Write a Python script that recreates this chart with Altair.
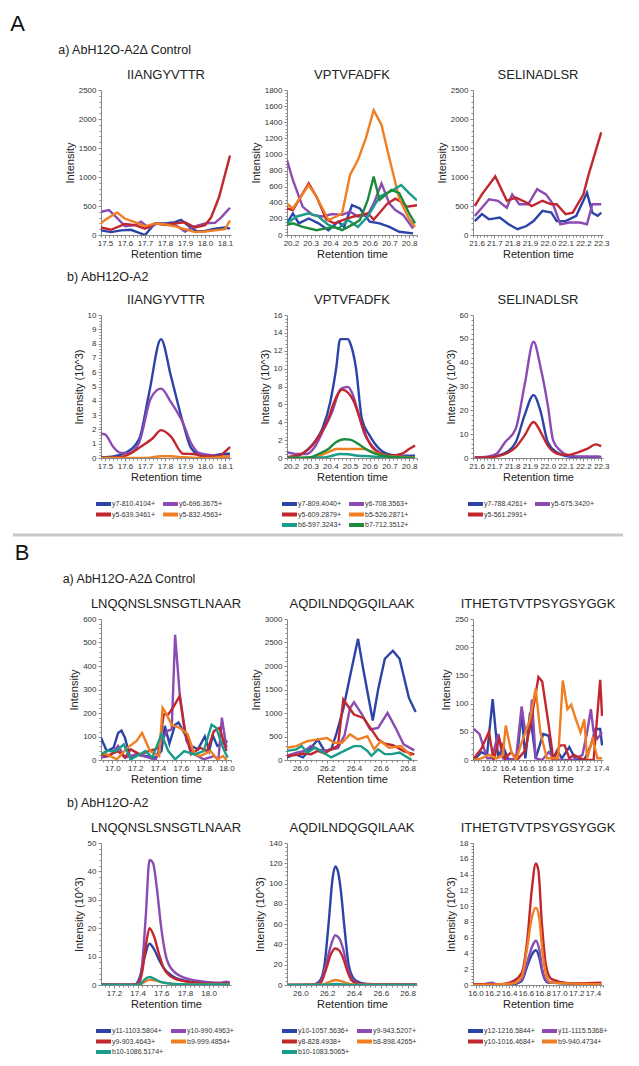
import altair as alt
import pandas as pd

BLUE = "#2b44a6"
PURPLE = "#8c4bb3"
RED = "#c1272d"
ORANGE = "#ef7f22"
TEAL = "#1a9c8b"
GREEN = "#1d8a3c"

# ---------------- Panel A : peptide names and transitions ----------------
A_PEPTIDES = ["IIANGYVTTR", "VPTVFADFK", "SELINADLSR"]
A1_IONS = ["y7-810.4104+", "y6-696.3675+", "y5-639.3461+", "y5-832.4563+"]
A1_COLORS = [BLUE, PURPLE, RED, ORANGE]
A2_IONS = ["y7-809.4040+", "y6-708.3563+", "y5-609.2879+", "b5-526.2871+", "b6-597.3243+", "b7-712.3512+"]
A2_COLORS = [BLUE, PURPLE, RED, ORANGE, TEAL, GREEN]
A3_IONS = ["y7-788.4261+", "y5-675.3420+", "y5-561.2991+"]
A3_COLORS = [BLUE, PURPLE, RED]

# A a) control, IIANGYVTTR (intensity)
a1_blue = [(17.48, 80), (17.53, 50), (17.58, 80), (17.63, 90), (17.7, 0), (17.75, 200), (17.8, 200), (17.85, 220), (17.88, 260), (17.92, 150), (17.96, 60), (18.0, 70), (18.05, 110), (18.1, 130), (18.125, 110)]
a1_purple = [(17.48, 400), (17.52, 430), (17.57, 260), (17.6, 150), (17.65, 170), (17.68, 230), (17.72, 120), (17.76, 200), (17.8, 190), (17.85, 180), (17.9, 60), (17.95, 150), (18.0, 200), (18.05, 210), (18.08, 300), (18.125, 470)]
a1_red = [(17.48, 130), (17.53, 90), (17.6, 190), (17.65, 170), (17.7, 110), (17.75, 200), (17.8, 170), (17.85, 200), (17.9, 220), (17.95, 130), (18.0, 170), (18.03, 300), (18.07, 650), (18.125, 1370)]
a1_orange = [(17.48, 200), (17.5, 260), (17.56, 390), (17.6, 280), (17.65, 220), (17.7, 150), (17.75, 200), (17.8, 180), (17.85, 150), (17.9, 100), (17.95, 50), (18.0, 60), (18.05, 80), (18.1, 100), (18.125, 250)]

# A a) control, VPTVFADFK
a2_blue = [(20.18, 145), (20.21, 270), (20.24, 145), (20.29, 205), (20.34, 145), (20.39, 60), (20.44, 165), (20.47, 100), (20.51, 370), (20.55, 330), (20.6, 165), (20.65, 145), (20.7, 100), (20.75, 40), (20.82, 20)]
a2_purple = [(20.18, 930), (20.21, 680), (20.26, 350), (20.31, 250), (20.36, 230), (20.41, 260), (20.46, 250), (20.5, 290), (20.54, 230), (20.59, 250), (20.62, 390), (20.66, 640), (20.7, 390), (20.73, 310), (20.77, 250), (20.82, 80)]
a2_red = [(20.18, 330), (20.21, 310), (20.29, 640), (20.33, 475), (20.38, 190), (20.42, 145), (20.47, 190), (20.52, 230), (20.59, 270), (20.62, 190), (20.69, 390), (20.73, 450), (20.76, 410), (20.79, 350), (20.84, 370)]
a2_orange = [(20.18, 390), (20.21, 330), (20.29, 620), (20.33, 475), (20.39, 186), (20.43, 230), (20.46, 270), (20.5, 745), (20.54, 930), (20.58, 1200), (20.62, 1550), (20.66, 1365), (20.69, 1050), (20.72, 750), (20.75, 450), (20.8, 200), (20.83, 100)]
a2_teal = [(20.18, 145), (20.23, 230), (20.29, 270), (20.34, 230), (20.39, 125), (20.44, 80), (20.49, 185), (20.54, 100), (20.59, 230), (20.65, 475), (20.72, 560), (20.76, 620), (20.8, 520), (20.84, 430)]
a2_green = [(20.18, 125), (20.21, 145), (20.26, 100), (20.33, 60), (20.37, 80), (20.42, 100), (20.46, 60), (20.51, 125), (20.55, 185), (20.59, 435), (20.62, 725), (20.65, 435), (20.71, 560), (20.75, 520), (20.8, 270), (20.83, 145)]

# A a) control, SELINADLSR
a3_blue = [(21.59, 240), (21.63, 360), (21.67, 270), (21.73, 300), (21.78, 185), (21.83, 100), (21.88, 155), (21.92, 240), (21.97, 415), (22.02, 385), (22.05, 240), (22.1, 240), (22.16, 330), (22.22, 730), (22.25, 385), (22.28, 330), (22.3, 385)]
a3_purple = [(21.59, 330), (21.63, 470), (21.67, 615), (21.72, 590), (21.77, 470), (21.8, 700), (21.84, 530), (21.89, 530), (21.94, 790), (21.99, 700), (22.03, 530), (22.07, 185), (22.12, 215), (22.18, 215), (22.22, 185), (22.25, 530), (22.3, 530)]
a3_red = [(21.59, 500), (21.63, 700), (21.705, 1010), (21.77, 590), (21.82, 645), (21.88, 560), (21.91, 500), (21.97, 590), (22.02, 530), (22.05, 530), (22.1, 360), (22.14, 385), (22.2, 700), (22.23, 1050), (22.3, 1770)]

# A b) AbH12O-A2, IIANGYVTTR (10^3)
b1_blue = [(17.48, 0.05), (17.5, 0.05), (17.57, 0.2), (17.6, 0.35), (17.67, 1.3), (17.72, 4.5), (17.78, 8.3), (17.83, 5.7), (17.89, 2.45), (17.93, 0.7), (17.97, 0.25), (18.03, 0.15), (18.1, 0.3), (18.125, 0.3)]
b1_purple = [(17.48, 1.7), (17.5, 1.65), (17.54, 0.8), (17.58, 0.35), (17.62, 0.35), (17.67, 1.05), (17.73, 4.2), (17.78, 4.85), (17.83, 3.9), (17.89, 2.45), (17.93, 1.05), (17.97, 0.35), (18.03, 0.2), (18.1, 0.1), (18.125, 0.1)]
b1_red = [(17.48, 0.0), (17.57, 0.05), (17.61, 0.2), (17.68, 0.8), (17.74, 1.4), (17.78, 1.95), (17.83, 1.5), (17.89, 0.3), (17.94, 0.28), (18.0, 0.1), (18.07, 0.1), (18.1, 0.45), (18.125, 0.77)]
b1_orange = [(17.48, 0.0), (17.6, 0.0), (17.7, 0.0), (17.78, 0.12), (17.83, 0.12), (17.89, 0.05), (17.97, 0.0), (18.03, 0.0), (18.1, 0.1), (18.125, 0.12)]

# A b) VPTVFADFK
b2_blue = [(20.18, 0.08), (20.23, 0.2), (20.28, 0.85), (20.32, 1.8), (20.36, 3.3), (20.4, 6.3), (20.43, 10.1), (20.45, 13.3), (20.49, 13.3), (20.5, 12.9), (20.53, 10.1), (20.56, 4.4), (20.6, 2.5), (20.65, 1.0), (20.69, 0.45), (20.74, 0.25), (20.83, 0.25)]
b2_purple = [(20.18, 0.65), (20.23, 0.45), (20.28, 0.45), (20.32, 1.2), (20.36, 2.9), (20.41, 5.2), (20.45, 7.65), (20.47, 7.9), (20.49, 7.95), (20.51, 7.3), (20.54, 5.2), (20.57, 2.9), (20.61, 1.4), (20.66, 0.45), (20.7, 0.2), (20.83, 0.08)]
b2_red = [(20.18, 0.08), (20.23, 0.25), (20.29, 1.0), (20.34, 2.35), (20.39, 4.4), (20.42, 6.3), (20.46, 7.65), (20.49, 7.3), (20.52, 6.3), (20.55, 4.4), (20.58, 2.55), (20.62, 1.0), (20.67, 0.4), (20.71, 0.25), (20.76, 0.45), (20.8, 1.0), (20.83, 1.4)]
b2_orange = [(20.18, 0.0), (20.28, 0.0), (20.34, 0.25), (20.39, 0.65), (20.43, 1.0), (20.48, 1.0), (20.52, 1.0), (20.57, 1.0), (20.61, 0.7), (20.66, 0.35), (20.7, 0.2), (20.83, 0.05)]
b2_teal = [(20.18, 0.0), (20.36, 0.05), (20.4, 0.2), (20.45, 0.45), (20.49, 0.42), (20.54, 0.25), (20.6, 0.2), (20.66, 0.08), (20.83, 0.0)]
b2_green = [(20.18, 0.0), (20.25, 0.0), (20.3, 0.08), (20.34, 0.45), (20.39, 1.0), (20.43, 1.8), (20.47, 2.1), (20.5, 2.05), (20.54, 1.6), (20.58, 1.0), (20.62, 0.55), (20.67, 0.25), (20.73, 0.08), (20.83, 0.0)]

# A b) SELINADLSR
b3_blue = [(21.59, 0.1), (21.67, 0.3), (21.75, 1.7), (21.82, 6.6), (21.87, 18.0), (21.92, 26.4), (21.96, 19.4), (22.0, 6.6), (22.05, 2.4), (22.12, 0.6), (22.21, 0.3), (22.3, 0.4)]
b3_purple = [(21.59, 0.3), (21.66, 0.6), (21.71, 1.7), (21.76, 6.6), (21.82, 12.3), (21.87, 30.7), (21.92, 48.8), (21.96, 37.8), (22.0, 22.2), (22.03, 7.4), (22.07, 3.1), (22.12, 1.0), (22.19, 0.6), (22.24, 0.7), (22.28, 0.6), (22.3, 0.3)]
b3_red = [(21.59, 0.1), (21.67, 0.3), (21.75, 1.4), (21.82, 4.5), (21.87, 9.5), (21.92, 15.1), (21.96, 10.9), (22.0, 5.2), (22.06, 1.7), (22.12, 1.3), (22.17, 2.4), (22.22, 3.8), (22.27, 5.7), (22.3, 5.0)]

# ---------------- Panel B ----------------
B_PEPTIDES = ["LNQQNSLSNSGTLNAAR", "AQDILNDQGQILAAK", "ITHETGTVTPSYGSYGGK"]
B1_IONS = ["y11-1103.5804+", "y10-990.4963+", "y9-903.4643+", "b9-999.4854+", "b10-1086.5174+"]
B1_COLORS = [BLUE, PURPLE, RED, ORANGE, TEAL]
B2_IONS = ["y10-1057.5636+", "y9-943.5207+", "y8-828.4938+", "b8-898.4265+", "b10-1083.5065+"]
B2_COLORS = [BLUE, PURPLE, RED, ORANGE, TEAL]
B3_IONS = ["y12-1216.5844+", "y11-1115.5368+", "y10-1016.4684+", "b9-940.4734+"]
B3_COLORS = [BLUE, PURPLE, RED, ORANGE]

# B a) control, LNQQNSLSNSGTLNAAR
c1_blue = [(16.9, 95), (16.95, 38), (17.01, 52), (17.05, 115), (17.08, 125), (17.11, 95), (17.16, 3), (17.21, 24), (17.29, 17), (17.38, 10), (17.43, 38), (17.46, 145), (17.5, 70), (17.55, 150), (17.58, 160), (17.63, 115), (17.69, 60), (17.75, 45), (17.81, 100), (17.85, 40), (17.88, 105), (17.92, 60), (17.97, 73), (18.01, 80)]
c1_purple = [(16.9, 10), (16.98, 17), (17.05, 60), (17.11, 10), (17.21, 24), (17.32, 10), (17.38, 0), (17.43, 80), (17.48, 123), (17.52, 130), (17.55, 533), (17.59, 280), (17.65, 80), (17.72, 24), (17.8, 3), (17.89, 17), (17.93, 3), (17.96, 180), (18.0, 52)]
c1_red = [(16.9, 24), (16.95, 17), (17.05, 38), (17.11, 10), (17.16, 45), (17.24, 24), (17.32, 38), (17.41, 52), (17.45, 194), (17.49, 194), (17.53, 222), (17.59, 272), (17.63, 137), (17.69, 24), (17.77, 52), (17.83, 38), (17.89, 123), (17.94, 137), (18.0, 38)]
c1_orange = [(16.9, 31), (16.95, 24), (17.04, 3), (17.13, 52), (17.21, 80), (17.26, 115), (17.33, 38), (17.41, 17), (17.44, 222), (17.46, 208), (17.52, 150), (17.59, 137), (17.66, 110), (17.72, 24), (17.77, 17), (17.86, 38), (17.92, 3), (17.97, 17), (18.0, 0)]
c1_teal = [(16.9, 24), (16.95, 38), (17.03, 38), (17.1, 66), (17.16, 3), (17.24, 24), (17.29, 38), (17.35, 10), (17.43, 110), (17.49, 38), (17.55, 3), (17.63, 38), (17.72, 24), (17.8, 38), (17.87, 150), (17.91, 137), (17.97, 52), (18.01, 10)]

# B a) control, AQDILNDQGQILAAK
c2_blue = [(25.9, 55), (25.96, 124), (26.02, 55), (26.07, 227), (26.13, 434), (26.18, 193), (26.23, 227), (26.27, 571), (26.32, 1087), (26.37, 1776), (26.43, 2578), (26.47, 1914), (26.54, 840), (26.58, 1500), (26.63, 2154), (26.69, 2324), (26.74, 2154), (26.81, 1320), (26.86, 1023)]
c2_purple = [(25.9, 90), (25.97, 158), (26.03, 193), (26.08, 300), (26.13, 227), (26.18, 193), (26.23, 227), (26.28, 250), (26.33, 530), (26.37, 1100), (26.4, 1230), (26.46, 968), (26.52, 650), (26.58, 685), (26.65, 1002), (26.71, 685), (26.77, 332), (26.85, 205)]
c2_red = [(25.9, 90), (25.96, 103), (26.02, 138), (26.08, 124), (26.13, 193), (26.18, 138), (26.23, 227), (26.28, 300), (26.32, 1285), (26.35, 1165), (26.4, 968), (26.47, 896), (26.53, 650), (26.58, 438), (26.63, 345), (26.69, 318), (26.77, 190), (26.85, 120)]
c2_orange = [(25.9, 261), (25.97, 296), (26.05, 400), (26.12, 434), (26.2, 468), (26.25, 365), (26.31, 367), (26.37, 545), (26.43, 438), (26.5, 508), (26.55, 227), (26.6, 402), (26.66, 260), (26.75, 297), (26.83, 85)]
c2_teal = [(25.9, 193), (25.97, 227), (26.01, 296), (26.05, 158), (26.11, 261), (26.17, 158), (26.23, 55), (26.3, 158), (26.35, 227), (26.4, 296), (26.45, 296), (26.5, 193), (26.53, 90), (26.58, 227), (26.63, 124), (26.68, 124), (26.74, 158), (26.83, 0)]

# B a) control, ITHETGTVTPSYGSYGGK
c3_blue = [(16.04, 0), (16.12, 14), (16.18, 9), (16.24, 108), (16.3, 3), (16.35, 26), (16.4, 3), (16.45, 0), (16.5, 3), (16.55, 84), (16.59, 3), (16.64, 84), (16.7, 3), (16.78, 46), (16.84, 43), (16.88, 0), (16.93, 17), (16.98, 3), (17.06, 23), (17.13, 0), (17.22, 0), (17.29, 26), (17.34, 55), (17.39, 55), (17.41, 26)]
c3_purple = [(16.04, 55), (16.1, 46), (16.18, 3), (16.23, 3), (16.3, 46), (16.35, 3), (16.4, 0), (16.49, 3), (16.55, 95), (16.59, 49), (16.63, 49), (16.66, 107), (16.7, 3), (16.77, 0), (16.84, 14), (16.91, 0), (17.1, 0), (17.2, 9), (17.25, 49), (17.29, 90), (17.32, 49), (17.36, 38), (17.41, 49)]
c3_red = [(16.04, 3), (16.12, 20), (16.2, 50), (16.25, 0), (16.31, 38), (16.37, 3), (16.44, 14), (16.5, 0), (16.59, 17), (16.66, 78), (16.73, 147), (16.77, 139), (16.84, 61), (16.89, 0), (16.96, 26), (17.01, 26), (17.06, 3), (17.11, 9), (17.18, 3), (17.25, 0), (17.32, 0), (17.39, 142), (17.41, 78)]
c3_orange = [(16.04, 0), (16.12, 3), (16.2, 9), (16.28, 3), (16.35, 9), (16.38, 61), (16.44, 14), (16.49, 0), (16.54, 26), (16.59, 49), (16.64, 72), (16.7, 127), (16.75, 49), (16.82, 3), (16.94, 3), (16.99, 141), (17.04, 90), (17.08, 98), (17.13, 72), (17.18, 49), (17.22, 72), (17.25, 3), (17.31, 38), (17.36, 3), (17.41, 3)]

# B b) AbH12O-A2, LNQQNSLSNSGTLNAAR (10^3)
d1_blue = [(17.09, 0.3), (17.3, 0.2), (17.38, 0.3), (17.42, 3), (17.46, 10), (17.5, 14.5), (17.54, 12.5), (17.58, 9), (17.62, 6), (17.7, 3), (17.8, 1.5), (17.9, 0.8), (18.0, 0.5), (18.1, 0.5), (18.15, 0.8), (18.18, 0.5)]
d1_purple = [(17.09, 0), (17.3, 0), (17.38, 0), (17.41, 1), (17.44, 8), (17.47, 25), (17.5, 44), (17.53, 43), (17.56, 35), (17.6, 20), (17.64, 10), (17.7, 5), (17.8, 2.5), (17.9, 1.5), (18.0, 1), (18.1, 0.8), (18.15, 1.2), (18.18, 0.8)]
d1_red = [(17.09, 0), (17.38, 0.1), (17.41, 0.5), (17.44, 5), (17.47, 14), (17.5, 20), (17.54, 17), (17.58, 11), (17.62, 6), (17.7, 2.5), (17.8, 1.3), (17.9, 0.8), (18.0, 0.5), (18.18, 0.5)]
d1_orange = [(17.09, 0), (17.4, 0), (17.43, 0.3), (17.46, 1.2), (17.5, 1.8), (17.55, 1.6), (17.6, 1.0), (17.7, 0.4), (17.9, 0.2), (18.18, 0.2)]
d1_teal = [(17.09, 0), (17.4, 0), (17.43, 0.6), (17.46, 2), (17.5, 2.8), (17.54, 2.2), (17.6, 1), (17.7, 0.4), (17.9, 0.2), (18.18, 0.2)]

# B b) AQDILNDQGQILAAK
d2_blue = [(25.9, 0), (26.08, 0.3), (26.12, 1.5), (26.15, 5), (26.18, 20), (26.21, 60), (26.24, 105), (26.26, 117), (26.28, 112), (26.3, 95), (26.33, 55), (26.36, 20), (26.4, 6), (26.45, 2), (26.5, 1), (26.6, 0.5), (26.87, 0.3)]
d2_purple = [(25.9, 0), (26.1, 0.2), (26.15, 3), (26.19, 20), (26.23, 40), (26.26, 49), (26.29, 46), (26.32, 35), (26.35, 18), (26.38, 7), (26.42, 2), (26.5, 0.6), (26.87, 0.3)]
d2_red = [(25.9, 0), (26.1, 0.2), (26.15, 2), (26.19, 15), (26.23, 31), (26.26, 36), (26.29, 34), (26.32, 26), (26.35, 14), (26.38, 5), (26.42, 1.5), (26.5, 0.5), (26.87, 0.2)]
d2_orange = [(25.9, 0), (26.15, 0.2), (26.2, 2), (26.26, 5), (26.3, 4), (26.35, 1.5), (26.4, 0.3), (26.87, 0)]
d2_teal = [(25.9, 0), (26.18, 0.2), (26.26, 1.0), (26.32, 0.6), (26.4, 0.1), (26.87, 0)]

# B b) ITHETGTVTPSYGSYGGK
d3_blue = [(15.97, 0), (16.45, 0.1), (16.55, 0.5), (16.62, 2.5), (16.68, 4), (16.72, 4.4), (16.76, 3.5), (16.8, 1.5), (16.86, 0.3), (17.5, 0.1)]
d3_purple = [(15.97, 0), (16.1, 0.1), (16.2, 0.3), (16.25, 0.1), (16.45, 0.2), (16.55, 0.7), (16.62, 3), (16.68, 5), (16.72, 5.6), (16.76, 4.5), (16.8, 1.8), (16.86, 0.4), (17.5, 0.1)]
d3_red = [(15.97, 0.1), (16.3, 0.1), (16.45, 0.5), (16.55, 1.5), (16.62, 6), (16.67, 12), (16.72, 15.4), (16.75, 14.5), (16.79, 8), (16.84, 2.5), (16.9, 0.8), (16.95, 0.6), (17.0, 0.4), (17.2, 0.2), (17.5, 0.3)]
d3_orange = [(15.97, 0), (16.45, 0.2), (16.55, 1), (16.62, 5), (16.67, 8.5), (16.72, 9.8), (16.76, 8.5), (16.8, 4), (16.85, 1), (16.9, 0.3), (17.5, 0.1)]

FONT = "Liberation Sans"
W = 130


def tick_values(lo, hi, step):
    first = int(-(-round(lo / step, 6) // 1))
    last = int(round(hi / step, 6) // 1)
    return [round(i * step, 4) for i in range(first, last + 1)]


def make_axis(dom, major, nminor, fmt, title, big, small, pad, tpad):
    vals = tick_values(dom[0], dom[1], major / nminor)
    test = f"abs(datum.value / {major} - round(datum.value / {major})) < 0.001"
    return alt.Axis(
        values=vals,
        labelExpr=f"({test}) ? format(datum.value, '{fmt}') : ''",
        tickSize={"condition": {"test": test, "value": big}, "value": small},
        labelOverlap=False,
        labelBound=False,
        labelPadding=pad,
        titlePadding=tpad,
        title=title,
        grid=False,
    )


def column_major(items, ncol=2):
    # the legend fills its grid column by column; reorder so it reads row by row
    n = len(items)
    nrow = -(-n // ncol)
    out = [None] * n
    for i, it in enumerate(items):
        r, c = divmod(i, ncol)
        out[c * nrow + r] = it
    return out


def panel(title, ions, colors, series, xdom, xmajor, ydom, ymajor, ytitle, h, show_legend, smooth):
    rows = []
    for name, pts in zip(ions, series):
        for i, (x, y) in enumerate(pts):
            rows.append({"time": x, "intensity": y, "ion": name, "idx": i})
    df = pd.DataFrame(rows)
    dom = column_major(ions)
    rng = column_major(colors)
    if show_legend:
        leg = alt.Legend(
            title=None, orient="none", legendX=-5, legendY=h + 42, columns=2,
            symbolType="M-1.6,0H1.6", symbolSize=100, symbolStrokeWidth=4,
            clipHeight=8, labelFontSize=7, labelColor="#333", columnPadding=7, rowPadding=2.5,
            labelOffset=2, labelFont=FONT, padding=0,
        )
    else:
        leg = None
    return (
        alt.Chart(df)
        .mark_line(strokeWidth=2.4, interpolate="monotone" if smooth else "linear", clip=True)
        .encode(
            x=alt.X("time:Q", scale=alt.Scale(domain=xdom, nice=False, zero=False),
                    axis=make_axis(xdom, xmajor, 5, ".1f", "Retention time", 3, 2, 1, 1)),
            y=alt.Y("intensity:Q", scale=alt.Scale(domain=ydom, nice=False),
                    axis=make_axis(ydom, ymajor, 5, "d", ytitle, 3, 2, 2, 3)),
            color=alt.Color("ion:N", scale=alt.Scale(domain=dom, range=rng), legend=leg),
            order="idx:Q",
        )
        .properties(width=W, height=h,
                    title=alt.TitleParams(title, fontSize=13, fontWeight="normal", font=FONT, offset=4, color="#222"))
    )


def row(charts, label, off):
    return alt.hconcat(*charts, spacing=56, bounds="flush").properties(
        title=alt.TitleParams(label, anchor="start", fontSize=12.5, fontWeight="normal", font=FONT,
                              color="#222", offset=off, dx=-6)
    ).resolve_scale(color="independent")


rowAa = row([
    panel(A_PEPTIDES[0], A1_IONS, A1_COLORS, [a1_blue, a1_purple, a1_red, a1_orange], [17.48, 18.13], 0.1, [0, 2500], 500, "Intensity", 145, False, False),
    panel(A_PEPTIDES[1], A2_IONS, A2_COLORS, [a2_blue, a2_purple, a2_red, a2_orange, a2_teal, a2_green], [20.18, 20.84], 0.1, [0, 1800], 200, "Intensity", 145, False, False),
    panel(A_PEPTIDES[2], A3_IONS, A3_COLORS, [a3_blue, a3_purple, a3_red], [21.58, 22.31], 0.1, [0, 2500], 500, "Intensity", 145, False, False),
], "a) AbH12O-A2\u0394 Control", 13)

rowAb = row([
    panel(A_PEPTIDES[0], A1_IONS, A1_COLORS, [b1_blue, b1_purple, b1_red, b1_orange], [17.48, 18.13], 0.1, [0, 10], 1, "Intensity (10^3)", 143, True, True),
    panel(A_PEPTIDES[1], A2_IONS, A2_COLORS, [b2_blue, b2_purple, b2_red, b2_orange, b2_teal, b2_green], [20.18, 20.84], 0.1, [0, 16], 2, "Intensity (10^3)", 143, True, True),
    panel(A_PEPTIDES[2], A3_IONS, A3_COLORS, [b3_blue, b3_purple, b3_red], [21.58, 22.31], 0.1, [0, 60], 10, "Intensity (10^3)", 143, True, True),
], "b) AbH12O-A2", 11)

rowBa = row([
    panel(B_PEPTIDES[0], B1_IONS, B1_COLORS, [c1_blue, c1_purple, c1_red, c1_orange, c1_teal], [16.9, 18.04], 0.2, [0, 600], 100, "Intensity", 141, False, False),
    panel(B_PEPTIDES[1], B2_IONS, B2_COLORS, [c2_blue, c2_purple, c2_red, c2_orange, c2_teal], [25.9, 26.87], 0.2, [0, 3000], 500, "Intensity", 141, False, False),
    panel(B_PEPTIDES[2], B3_IONS, B3_COLORS, [c3_blue, c3_purple, c3_red, c3_orange], [16.03, 17.42], 0.2, [0, 250], 50, "Intensity", 141, False, False),
], "a) AbH12O-A2\u0394 Control", 13)

rowBb = row([
    panel(B_PEPTIDES[0], B1_IONS, B1_COLORS, [d1_blue, d1_purple, d1_red, d1_orange, d1_teal], [17.09, 18.19], 0.2, [0, 50], 10, "Intensity (10^3)", 142, True, True),
    panel(B_PEPTIDES[1], B2_IONS, B2_COLORS, [d2_blue, d2_purple, d2_red, d2_orange, d2_teal], [25.9, 26.87], 0.2, [0, 140], 20, "Intensity (10^3)", 142, True, True),
    panel(B_PEPTIDES[2], B3_IONS, B3_COLORS, [d3_blue, d3_purple, d3_red, d3_orange], [15.97, 17.52], 0.2, [0, 18], 2, "Intensity (10^3)", 142, True, True),
], "b) AbH12O-A2", 13)


def section(r1, r2, letter, gap):
    return alt.vconcat(r1, r2, spacing=gap).properties(
        title=alt.TitleParams(letter, anchor="start", fontSize=22, fontWeight="normal", font=FONT,
                              color="#111", offset=8, dx=-48)
    ).resolve_scale(color="independent")


# thin grey divider between the two figure parts
divider = (
    alt.Chart(pd.DataFrame({"k": [0]}))
    .mark_rule(color="#c8c8c8", strokeWidth=3)
    .encode(x=alt.value(-88), x2=alt.value(522), y=alt.value(0))
    .properties(width=10, height=1)
)

chart = (
    alt.vconcat(section(rowAa, rowAb, "A", 11), divider, section(rowBa, rowBb, "B", 12), spacing=4)
    .resolve_scale(color="independent")
    .properties(padding={"left": 2, "top": 4, "right": 2, "bottom": 0})
    .configure(font=FONT)
    .configure_view(stroke=None)
    .configure_axis(
        labelFont=FONT, titleFont=FONT, labelFontSize=8, titleFontSize=11, titleFontWeight="normal",
        labelColor="#333", titleColor="#222", domainColor="#888", tickColor="#888",
    )
)

chart.save("out.html", embed_options={"renderer": "svg", "actions": False})
